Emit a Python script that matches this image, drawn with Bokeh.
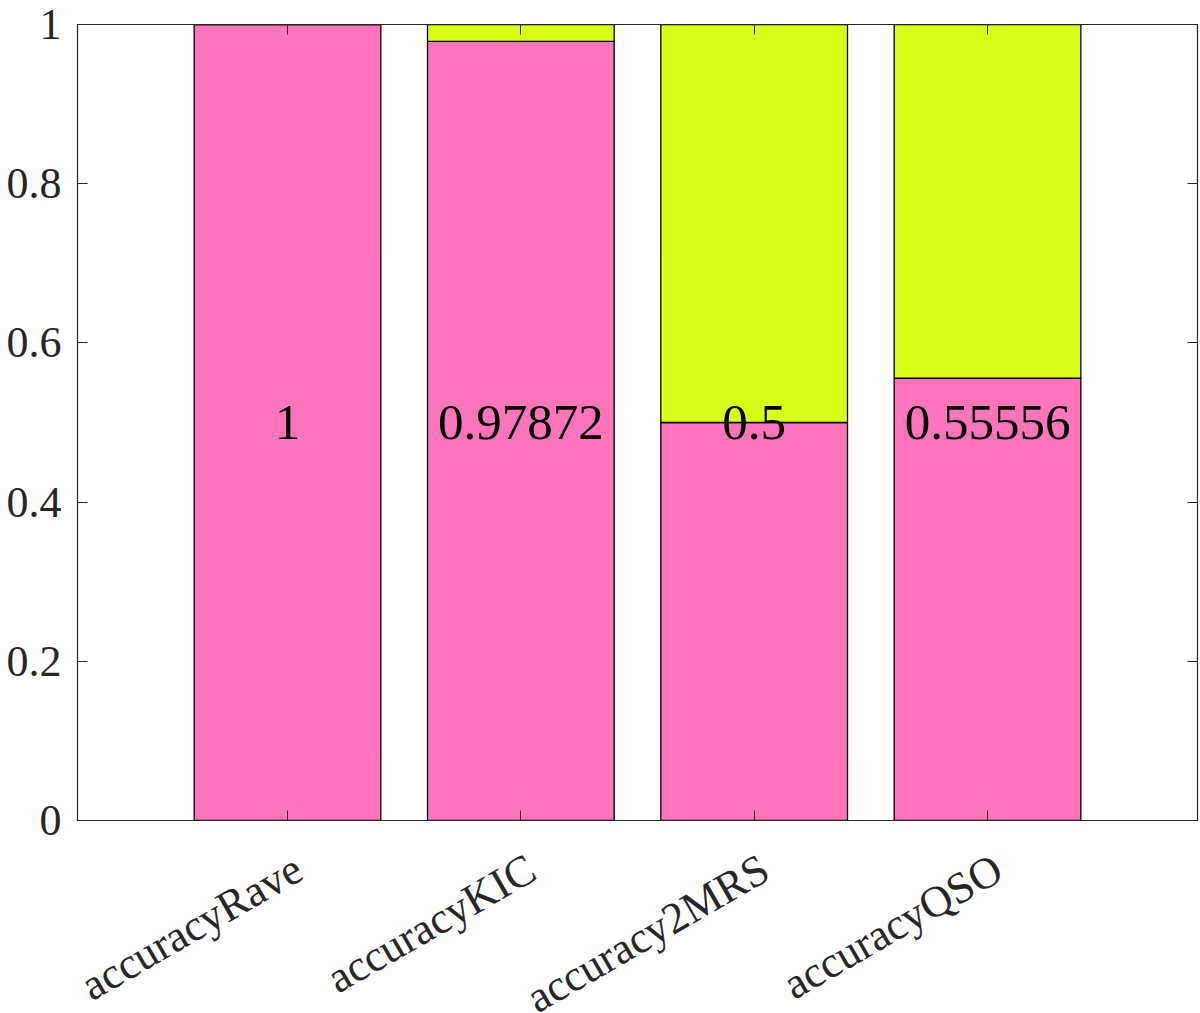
from bokeh.plotting import figure
from bokeh.layouts import column
from bokeh.models import LinearAxis, FixedTicker, Range1d, ColumnDataSource
from bokeh.core.properties import value
from bokeh.embed import file_html
from bokeh.resources import INLINE
import math

categories = ["accuracyRave", "accuracyKIC", "accuracy2MRS", "accuracyQSO"]
accuracy = [1.0, 0.97872, 0.5, 0.55556]
remainder = [0.0, 0.02128, 0.5, 0.44444]
bar_labels = ["1", "0.97872", "0.5", "0.55556"]
label_y = [0.5, 0.5, 0.5, 0.5]
yticks = [0, 0.2, 0.4, 0.6, 0.8, 1]
ytick_labels = ["0", "0.2", "0.4", "0.6", "0.8", "1"]

PINK = "#FF75BC"
LIME = "#D9FF1A"
AX = "#262626"
FONT = "Liberation Serif"

n = len(categories)
xpos = list(range(1, n + 1))
src = ColumnDataSource(dict(x=xpos, accuracy=accuracy, remainder=remainder))
lsrc = ColumnDataSource(dict(x=xpos, y=label_y, txt=bar_labels))

PAD = 0.9
xr = Range1d(1 - PAD, n + PAD)

MAIN_H = 844
LAB_H = 1013 - MAIN_H

p = figure(width=1200, height=MAIN_H, output_backend="svg", toolbar_location=None,
           x_range=xr, y_range=Range1d(0, 1),
           x_axis_location=None, y_axis_location=None,
           min_border_left=77, min_border_right=3, min_border_top=24,
           min_border_bottom=MAIN_H - 820)
p.grid.visible = False
p.outline_line_color = AX
p.outline_line_width = 1.2
p.background_fill_color = "white"
p.border_fill_color = "white"

p.vbar_stack(["accuracy", "remainder"], x="x", width=0.8, source=src,
             fill_color=[PINK, LIME], line_color="black", line_width=1.3)

p.text(x="x", y="y", text="txt", source=lsrc, text_align="center",
       text_baseline="middle", text_font=value(FONT), text_font_size="51px",
       text_color="black")

def style_common(ax):
    ax.major_tick_in = 10
    ax.major_tick_out = 0
    ax.minor_tick_in = 0
    ax.minor_tick_out = 0
    ax.axis_line_color = AX
    ax.major_tick_line_color = AX
    ax.major_label_text_font = FONT
    ax.major_label_text_color = AX

def hide_labels(ax, keys):
    ax.major_label_overrides = {k: "" for k in keys}
    ax.major_label_text_font_size = "1px"
    ax.major_label_standoff = 0

yl = LinearAxis(ticker=FixedTicker(ticks=yticks))
style_common(yl)
yl.major_label_overrides = {t: l for t, l in zip(yticks, ytick_labels)}
yl.major_label_text_font_size = "44px"
yl.major_label_standoff = 16
p.add_layout(yl, "left")

yr = LinearAxis(ticker=FixedTicker(ticks=yticks))
style_common(yr)
hide_labels(yr, yticks)
p.add_layout(yr, "right")

xb = LinearAxis(ticker=FixedTicker(ticks=xpos))
style_common(xb)
hide_labels(xb, xpos)
p.add_layout(xb, "below")

xt = LinearAxis(ticker=FixedTicker(ticks=xpos))
style_common(xt)
hide_labels(xt, xpos)
p.add_layout(xt, "above")

# strip below the axes carrying the rotated category labels (shares the x range)
q = figure(width=1200, height=LAB_H, output_backend="svg", toolbar_location=None,
           x_range=xr, y_range=Range1d(-LAB_H, 0),
           x_axis_location=None, y_axis_location=None,
           min_border_left=77, min_border_right=3, min_border_top=0,
           min_border_bottom=0)
q.grid.visible = False
q.outline_line_color = None
q.background_fill_color = "white"
q.border_fill_color = "white"
LAB_ANCHOR = 865 - MAIN_H
tsrc = ColumnDataSource(dict(x=xpos, y=[-LAB_ANCHOR] * n, txt=categories))
q.text(x="x", y="y", text="txt", source=tsrc, angle=math.radians(30),
       text_align="right", text_baseline="middle", x_offset=11,
       text_font=value(FONT), text_font_size="44px", text_color=AX)

open("out.html", "w").write(file_html(column(p, q), INLINE))
